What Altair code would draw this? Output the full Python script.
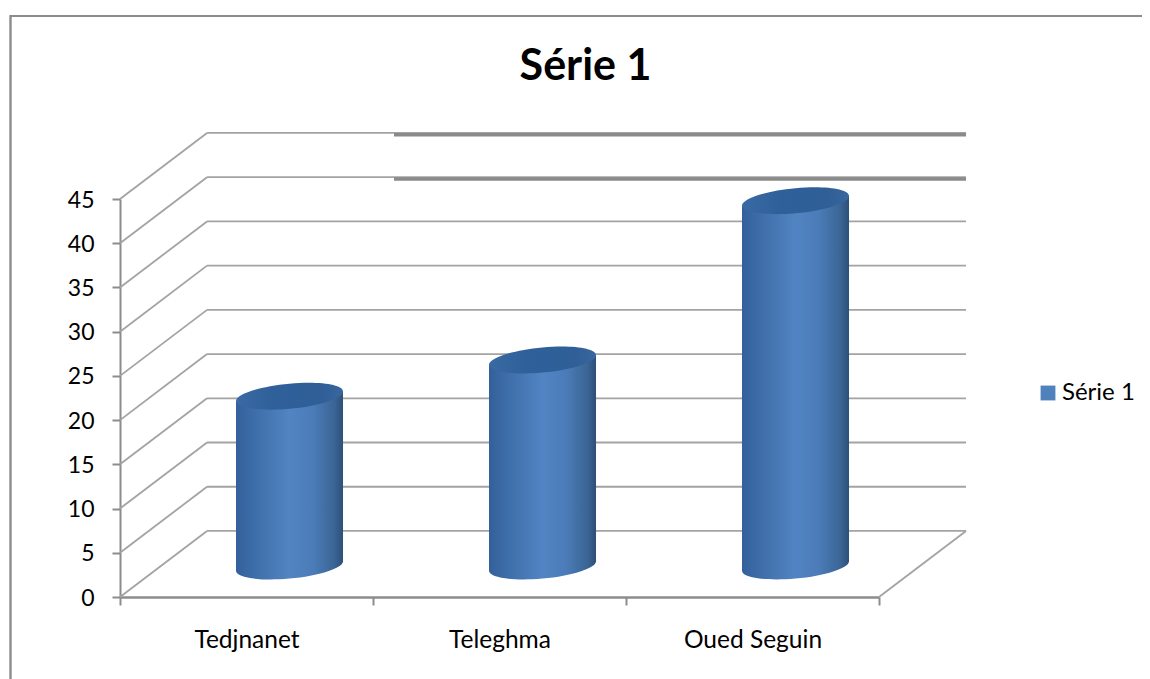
import json
import altair as alt
import pandas as pd

categories = ["Tedjnanet", "Teleghma", "Oued Seguin"]
values = [19.2, 23.3, 41.3]
series_name = "Série 1"
levels = [0, 5, 10, 15, 20, 25, 30, 35, 40, 45]
heavy_levels = [40, 45]

# projection of the 3D box, in axis units
DX, DY = 0.344, 7.466        # depth of the box
CX, CY = 0.67, 3.5           # cylinder centre inside the box slot
HALF = 0.2115                # cylinder half width
TILT = 0.57                  # ellipse tilt between left and right corners
HEAVY_START = 1.083

FONT = "Lato"
GREY = "#8c8c8c"
GRID = "#a3a3a3"
W, H = 759, 398


def ellipse_path(b=0.235, s=-0.09, k=0.5523):
    T = lambda x, y: f"{x:.4f},{b * y + s * x:.4f}"
    return ("M" + T(1, 0) + "C" + T(1, k) + " " + T(k, 1) + " " + T(0, 1)
            + "C" + T(-k, 1) + " " + T(-1, k) + " " + T(-1, 0)
            + "C" + T(-1, -k) + " " + T(-k, -1) + " " + T(0, -1)
            + "C" + T(k, -1) + " " + T(1, -k) + " " + T(1, 0) + "Z")


def grad(stops):
    return alt.Gradient(gradient="linear", x1=0, x2=1, y1=0, y2=0,
                        stops=[alt.GradientStop(color=c, offset=o) for o, c in stops])


side = grad([(0, "#33609a"), (0.2, "#3f70ab"), (0.5, "#5284c3"), (0.72, "#4b7cb8"),
             (0.92, "#3a6595"), (1, "#2e4f78")])
cap = grad([(0, "#3a6aa4"), (0.35, "#30609a"), (0.8, "#2f5f96"), (1, "#38679f")])

x_scale = alt.Scale(domain=[0, 3], range=[0, W], nice=False, zero=False)
y_scale = alt.Scale(domain=[0, 45], range=[H, 0], nice=False, zero=False)

x_axis = alt.Axis(values=[0, 1, 2, 3], title=None, grid=False, domainColor=GREY, domainWidth=2.5,
                  tickColor=GREY, tickWidth=2, tickSize=8, labelFont=FONT, labelFontSize=24.5,
                  labelColor="#000000", labelPadding=23, labelOffset=126.5, labelFlush=False,
                  labelExpr=f"{json.dumps(categories, ensure_ascii=False)}[datum.value] || ''")
y_axis = alt.Axis(values=levels, title=None, grid=False, domainColor=GREY, domainWidth=2,
                  tickColor=GREY, tickWidth=2, tickSize=8, labelFont=FONT, labelFontSize=23,
                  labelColor="#000000", labelPadding=18, labelFlush=False, labelOffset=1)
X = alt.X("x:Q", scale=x_scale, axis=x_axis)
Y = alt.Y("y:Q", scale=y_scale, axis=y_axis)

wall = pd.DataFrame(
    [{"x": 0, "y": v, "x2": DX, "y2": v + DY} for v in levels]
    + [{"x": DX, "y": v + DY, "x2": 3 + DX, "y2": v + DY} for v in levels]
    + [{"x": 3, "y": 0, "x2": 3 + DX, "y2": DY}]
)
heavy = pd.DataFrame([{"x": HEAVY_START, "y": v + DY, "x2": 3 + DX, "y2": v + DY} for v in heavy_levels])

body = pd.DataFrame(
    [{"cat": c, "x": i + CX - HALF, "y": v + CY - TILT, "y2": CY - TILT} for i, (c, v) in enumerate(zip(categories, values))]
    + [{"cat": c, "x": i + CX + HALF, "y": v + CY + TILT, "y2": CY + TILT} for i, (c, v) in enumerate(zip(categories, values))]
)
tops = pd.DataFrame([{"x": i + CX, "y": v + CY} for i, v in enumerate(values)])
bases = pd.DataFrame([{"x": i + CX, "y": CY} for i, _ in enumerate(values)])
legend_data = pd.DataFrame([{"x": i + CX, "y": CY, "series": series_name} for i, _ in enumerate(values)])

wall_layer = alt.Chart(wall).mark_rule(color=GRID, strokeWidth=1.8).encode(x=X, y=Y, x2="x2:Q", y2="y2:Q")
heavy_layer = alt.Chart(heavy).mark_rule(color="#8a8a8a", strokeWidth=3.6, yOffset=1.8, y2Offset=1.8).encode(x=X, y=Y, x2="x2:Q", y2="y2:Q")

PATH = ellipse_path()
SIZE = 107 ** 2
base_layer = alt.Chart(bases).mark_point(shape=PATH, size=SIZE, filled=True, fill=side, opacity=1, strokeWidth=0).encode(x=X, y=Y)
body_layers = [
    alt.Chart(body[body.cat == c]).mark_area(fill=side, orient="vertical", opacity=1).encode(x=X, y=Y, y2="y2:Q")
    for c in categories
]
top_layer = alt.Chart(tops).mark_point(shape=PATH, size=SIZE, filled=True, fill=cap, opacity=1, strokeWidth=0).encode(x=X, y=Y)

legend_layer = alt.Chart(legend_data).mark_square(size=0, opacity=0).encode(
    x=X, y=Y,
    color=alt.Color("series:N", scale=alt.Scale(domain=[series_name], range=["#4f81bd"]),
                    legend=alt.Legend(title=None, orient="none", legendX=916, legendY=182,
                                      symbolType="square", symbolSize=220, symbolOpacity=1,
                                      symbolStrokeWidth=0, symbolFillColor="#4f81bd",
                                      labelFont=FONT, labelFontSize=24, labelColor="#000000",
                                      labelOffset=2, labelLimit=200)),
)

frame_top = alt.Chart(pd.DataFrame({"a": [0]})).mark_rule(color=GREY, strokeWidth=2.2).encode(
    x=alt.value(-110), x2=alt.value(1022), y=alt.value(-183))
frame_left = alt.Chart(pd.DataFrame({"a": [0]})).mark_rule(color=GREY, strokeWidth=2.4).encode(
    x=alt.value(-109.5), y=alt.value(-184), y2=alt.value(480))

chart = alt.layer(
    wall_layer, heavy_layer, base_layer, *body_layers, top_layer, legend_layer, frame_top, frame_left
).properties(
    width=W, height=H,
    padding={"left": 112, "top": 191, "right": 263, "bottom": 82},
    autosize=alt.AutoSizeParams(type="none"),
    title=alt.TitleParams(series_name, font=FONT, fontSize=43, fontWeight="bold", color="#000000",
                          anchor="middle", dx=86, offset=-75),
).configure_view(stroke=None)

chart.save("out.html", embed_options={"renderer": "svg", "actions": False})
